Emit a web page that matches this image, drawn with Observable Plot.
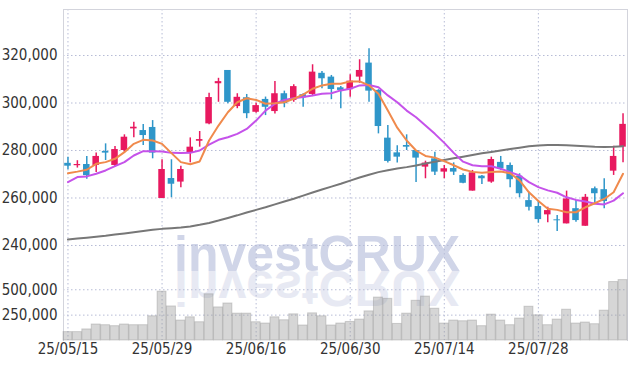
<!DOCTYPE html>
<html><head><meta charset="utf-8">
<script src="https://cdn.jsdelivr.net/npm/d3@7"></script>
<script src="https://cdn.jsdelivr.net/npm/@observablehq/plot@0.6"></script>
<style>
body{margin:0;background:#fff;}
#wrap{position:relative;width:637px;height:366px;overflow:hidden;background:#fff;}
#wm{position:absolute;left:0;top:0;}
#charts{position:absolute;left:0;top:0;}
#charts svg{display:block;}
</style></head><body>
<div id="wrap">
<svg id="wm" width="637" height="366">
  <text x="174" y="271" font-family="Liberation Sans, Arial, sans-serif" font-weight="bold" font-size="50" fill="#d0d5e8">investCRUX</text>
  <text x="174" y="271" transform="translate(0,542) scale(1,-1)" font-family="Liberation Sans, Arial, sans-serif" font-weight="bold" font-size="50" fill="#d0d5e8" opacity="0.5">investCRUX</text>
</svg>
<div id="charts"></div>
</div>
<script>
const dates = ["25/05/15","25/05/16","25/05/19","25/05/20","25/05/21","25/05/22","25/05/23","25/05/26","25/05/27","25/05/28",
"25/05/29","25/05/30","25/06/02","25/06/04","25/06/05","25/06/09","25/06/10","25/06/11","25/06/12","25/06/13",
"25/06/16","25/06/17","25/06/18","25/06/19","25/06/20","25/06/23","25/06/24","25/06/25","25/06/26","25/06/27",
"25/06/30","25/07/01","25/07/02","25/07/03","25/07/04","25/07/07","25/07/08","25/07/09","25/07/10","25/07/11",
"25/07/14","25/07/15","25/07/16","25/07/17","25/07/18","25/07/21","25/07/22","25/07/23","25/07/24","25/07/25",
"25/07/28","25/07/29","25/07/30","25/07/31","25/08/01","25/08/04","25/08/05","25/08/06","25/08/07","25/08/08"];
const open = [274600,273600,274100,273700,279600,273700,280000,289100,288400,289700,
259800,268200,266700,278900,283900,291200,308100,313700,298500,302200,
296100,301500,296400,303900,301100,303500,303600,312500,310900,306400,
305600,310900,316800,305300,285200,279000,282100,280000,273000,276500,
270900,272400,269500,262900,269200,266700,275000,273700,269200,258900,
256400,252900,250800,249100,255500,248100,263900,263500,271300,281400];
const high = [277200,275700,277500,278900,282800,281700,286600,291900,290900,292600,
276100,276100,273400,285300,288000,304100,310400,313700,303900,303600,
299900,302500,309100,305000,307700,303900,316100,313300,311600,306900,
311900,318200,322800,305600,290500,282000,286600,280000,275500,279300,
273700,274800,270200,271600,269500,277200,277500,274700,270200,262400,
258900,256100,252600,262900,258900,261500,264600,268100,281800,295500];
const low = [271900,272600,267900,270700,275800,273000,279300,285400,282100,276500,
259800,260100,264300,274800,281400,290800,300300,299700,297600,293400,
295700,294700,295400,298000,300300,298200,302700,306000,301400,297600,
302400,308300,300300,287000,274700,274700,280000,266500,268100,269500,
268100,269500,266000,262900,265700,266200,271600,264300,260100,254500,
249400,249600,245900,249100,249800,248100,257300,255500,269500,274800];
const close = [273400,274100,269400,277500,278900,280400,285600,289800,286300,278900,
272000,265800,272000,281400,284600,302300,309000,300300,302400,295500,
298900,298200,303900,299700,306900,302200,313000,310200,305700,305300,
309200,313700,305000,290100,275400,277200,281400,276800,274700,270900,
272300,270900,266200,270600,268100,276200,272300,267700,261800,256100,
250900,254700,250400,259600,250500,260300,261800,258500,277500,291000];
const volume = [82700,82700,109000,157600,150800,141100,157600,150800,150800,238300,
481500,335600,196500,228600,180000,455300,325900,364800,264600,264600,
180000,167300,228600,199400,257800,147900,267500,238300,147900,167300,
182900,206200,287000,423200,410500,163400,264600,391100,432900,313200,
167300,196500,189700,196500,141100,254900,196500,150800,216000,332700,
248100,150800,206200,303500,167300,177000,160500,293800,575900,595300];
const ma5 = [270400,271100,271900,274400,275100,276500,279300,282800,284500,284200,
282800,278900,275100,274200,275400,284200,290500,296100,300300,302000,
301300,299700,299900,300300,301800,303500,306000,307400,308100,308100,
309100,309100,307400,303900,296800,289600,284200,280000,277700,277000,
275500,273800,272000,271000,270600,270900,271200,270400,267400,262400,
258700,255500,255000,254000,254000,256100,257800,259600,262400,270200];
const ma10 = [266700,268800,269100,270200,271600,273400,275100,277900,279700,279700,
279600,279000,278900,279000,280000,282500,284500,285600,287000,289100,
292600,296800,299700,301300,302000,302500,303200,303900,304100,305300,
306000,307400,307600,306600,303200,300300,296800,294000,290500,287000,
283200,279000,275300,273800,273400,273400,272300,270900,269500,266700,
264600,263200,262200,260300,259200,258500,257600,257300,258900,262000];
const ma60 = [242500,242900,243300,243700,244100,244600,245100,245600,246100,246600,
247000,247300,247600,248000,248700,249500,250500,251600,252700,253900,
255000,256100,257300,258500,259700,261000,262300,263600,264800,266000,
267300,268600,269800,270900,271700,272400,273000,273700,274500,275300,
276000,276700,277400,278100,278800,279400,280000,280600,281200,281800,
282100,282300,282300,282200,282000,281800,281600,281500,281600,281800];
const priceTicks = [240000,260000,280000,300000,320000];
const volumeTicks = [250000,500000];
const dateTicks = ["25/05/15","25/05/29","25/06/16","25/06/30","25/07/14","25/07/28"];

const data = dates.map((d,i)=>({date:d,open:open[i],high:high[i],low:low[i],close:close[i],volume:volume[i],ma5:ma5[i],ma10:ma10[i],ma60:ma60[i]}));
const UP = "#e8195f", DOWN = "#2f96c9";
const isUp = d => d.close >= d.open;
const isDown = d => d.close < d.open;
const FONT = "'DejaVu Sans Condensed','Liberation Sans Narrow',sans-serif";
const GRID = {stroke:"#b7bcd6", strokeOpacity:1, strokeDasharray:"1.5,2.5"};
const FRAME = "#d3d4dc";
const xOpts = {type:"band", domain:dates, paddingInner:0.05, paddingOuter:0, round:false};

const price = Plot.plot({
  width:637, height:271, marginLeft:63, marginRight:10, marginTop:9, marginBottom:0,
  style:{background:"transparent", fontFamily:FONT, fontSize:"15px", color:"#333"},
  x:{...xOpts, axis:null},
  y:{domain:[229050,339370], axis:null},
  marks:[
    Plot.gridY(priceTicks, GRID),
    Plot.gridX(dateTicks, GRID),
    Plot.frame({stroke:FRAME}),
    Plot.ruleX(data,{filter:isUp, x:"date", y1:"low", y2:"high", stroke:UP, strokeWidth:1.5}),
    Plot.ruleX(data,{filter:isDown, x:"date", y1:"low", y2:"high", stroke:DOWN, strokeWidth:1.5}),
    Plot.barY(data,{filter:isUp, x:"date", y1:"open", y2:"close", fill:UP, insetLeft:1.2, insetRight:1.2}),
    Plot.barY(data,{filter:isDown, x:"date", y1:"open", y2:"close", fill:DOWN, insetLeft:1.2, insetRight:1.2}),
    Plot.line(data,{x:"date", y:"ma60", stroke:"#777", strokeWidth:2}),
    Plot.line(data,{x:"date", y:"ma10", stroke:"#c552ea", strokeWidth:2}),
    Plot.line(data,{x:"date", y:"ma5", stroke:"#f08a4c", strokeWidth:2}),
    Plot.axisY(priceTicks,{tickSize:0, tickPadding:6, tickFormat:d3.format(","), label:null, fontSize:15, fill:"#333"})
  ]
});

const vol = Plot.plot({
  width:637, height:95, marginLeft:63, marginRight:10, marginTop:0, marginBottom:26,
  style:{background:"transparent", fontFamily:FONT, fontSize:"15px", color:"#333"},
  x:{...xOpts},
  y:{domain:[0,680000], axis:null},
  marks:[
    Plot.gridY(volumeTicks, GRID),
    Plot.gridX(dateTicks, GRID),
    Plot.frame({anchor:"left", stroke:FRAME}),
    Plot.frame({anchor:"right", stroke:FRAME}),
    Plot.barY(data,{x:"date", y:"volume", fill:"#999", fillOpacity:0.4, stroke:"#888", strokeOpacity:0.35}),
    Plot.axisX(dateTicks,{tickSize:0, tickPadding:3, label:null, fontSize:15, fill:"#333"}),
    Plot.axisY(volumeTicks,{tickSize:0, tickPadding:6, label:null, fontSize:15, fill:"#333"})
  ]
});

const c = document.getElementById("charts");
c.appendChild(price);
c.appendChild(vol);
</script>
</body></html>
